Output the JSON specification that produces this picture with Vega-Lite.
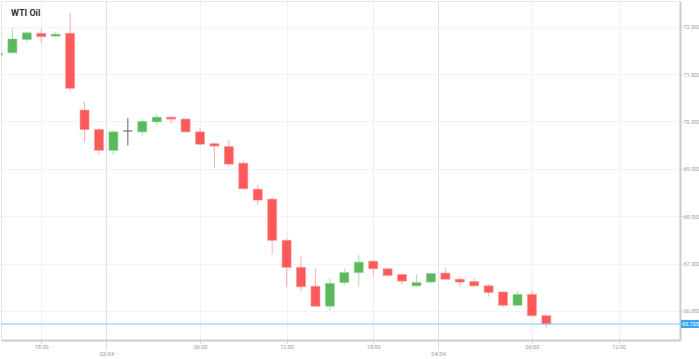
{
  "$schema": "https://vega.github.io/schema/vega-lite/v6.json",
  "width": 679,
  "height": 339,
  "autosize": {"type": "none"},
  "padding": {"left": 1, "top": 1, "right": 19, "bottom": 19},
  "background": "white",
  "title": {"text": "WTI Oil", "anchor": "start", "frame": "group", "orient": "top", "offset": -17, "dx": 10, "fontSize": 9, "font": "Roboto", "fontWeight": "bold", "color": "#333333"},
  "config": {
    "view": {"stroke": "#e6e6e6"},
    "axis": {"labelFont": "Roboto", "labelFontSize": 5.5, "labelColor": "#999999", "title": null, "labelOverlap": false, "labelFlush": false}
  },
  "datasets": {
    "candles": [
      {"s": -3, "o": 71.40, "h": 71.45, "l": 71.38, "c": 71.44, "d": "up"},
      {"s": -2, "o": 71.45, "h": 71.95, "l": 71.43, "c": 71.74, "d": "up"},
      {"s": -1, "o": 71.73, "h": 71.91, "l": 71.67, "c": 71.87, "d": "up"},
      {"s": 0, "o": 71.86, "h": 71.97, "l": 71.66, "c": 71.79, "d": "down"},
      {"s": 1, "o": 71.80, "h": 71.89, "l": 71.77, "c": 71.84, "d": "up"},
      {"s": 2, "o": 71.86, "h": 72.30, "l": 70.63, "c": 70.70, "d": "down"},
      {"s": 3, "o": 70.24, "h": 70.41, "l": 69.56, "c": 69.83, "d": "down"},
      {"s": 4, "o": 69.83, "h": 69.86, "l": 69.30, "c": 69.39, "d": "down"},
      {"s": 5, "o": 69.39, "h": 69.81, "l": 69.31, "c": 69.78, "d": "up"},
      {"s": 6, "o": 69.80, "h": 70.07, "l": 69.49, "c": 69.80, "d": "flat"},
      {"s": 7, "o": 69.78, "h": 70.05, "l": 69.70, "c": 70.00, "d": "up"},
      {"s": 8, "o": 69.99, "h": 70.16, "l": 69.91, "c": 70.09, "d": "up"},
      {"s": 9, "o": 70.09, "h": 70.10, "l": 69.95, "c": 70.05, "d": "down"},
      {"s": 10, "o": 70.05, "h": 70.06, "l": 69.77, "c": 69.78, "d": "down"},
      {"s": 11, "o": 69.78, "h": 69.87, "l": 69.51, "c": 69.52, "d": "down"},
      {"s": 12, "o": 69.53, "h": 69.56, "l": 69.02, "c": 69.48, "d": "down"},
      {"s": 13, "o": 69.47, "h": 69.61, "l": 69.05, "c": 69.10, "d": "down"},
      {"s": 14, "o": 69.12, "h": 69.18, "l": 68.57, "c": 68.58, "d": "down"},
      {"s": 15, "o": 68.57, "h": 68.66, "l": 68.24, "c": 68.34, "d": "down"},
      {"s": 16, "o": 68.36, "h": 68.40, "l": 67.20, "c": 67.49, "d": "down"},
      {"s": 17, "o": 67.49, "h": 67.53, "l": 66.51, "c": 66.92, "d": "down"},
      {"s": 18, "o": 66.92, "h": 67.17, "l": 66.41, "c": 66.51, "d": "down"},
      {"s": 19, "o": 66.52, "h": 66.90, "l": 66.09, "c": 66.10, "d": "down"},
      {"s": 20, "o": 66.10, "h": 66.70, "l": 66.01, "c": 66.58, "d": "up"},
      {"s": 21, "o": 66.60, "h": 66.89, "l": 66.54, "c": 66.81, "d": "up"},
      {"s": 22, "o": 66.81, "h": 67.18, "l": 66.51, "c": 67.03, "d": "up"},
      {"s": 23, "o": 67.05, "h": 67.06, "l": 66.72, "c": 66.89, "d": "down"},
      {"s": 24, "o": 66.89, "h": 66.91, "l": 66.72, "c": 66.75, "d": "down"},
      {"s": 25, "o": 66.77, "h": 66.78, "l": 66.56, "c": 66.63, "d": "down"},
      {"s": 26, "o": 66.53, "h": 66.77, "l": 66.52, "c": 66.60, "d": "up"},
      {"s": 27, "o": 66.61, "h": 66.80, "l": 66.60, "c": 66.79, "d": "up"},
      {"s": 28, "o": 66.80, "h": 66.91, "l": 66.66, "c": 66.67, "d": "down"},
      {"s": 29, "o": 66.67, "h": 66.72, "l": 66.51, "c": 66.61, "d": "down"},
      {"s": 30, "o": 66.62, "h": 66.70, "l": 66.51, "c": 66.53, "d": "down"},
      {"s": 31, "o": 66.53, "h": 66.57, "l": 66.30, "c": 66.39, "d": "down"},
      {"s": 32, "o": 66.40, "h": 66.42, "l": 66.08, "c": 66.12, "d": "down"},
      {"s": 33, "o": 66.12, "h": 66.42, "l": 66.11, "c": 66.35, "d": "up"},
      {"s": 34, "o": 66.35, "h": 66.44, "l": 65.88, "c": 65.90, "d": "down"},
      {"s": 35, "o": 65.90, "h": 65.91, "l": 65.65, "c": 65.725, "d": "down"}
    ],
    "price": [{"p": 65.725, "t": "65.725"}]
  },
  "layer": [
    {
      "data": {"name": "candles"},
      "mark": {"type": "rule", "strokeWidth": 1, "clip": true},
      "encoding": {
        "x": {"field": "s", "type": "quantitative", "scale": {"domain": [-2.79, 44.26], "nice": false, "zero": false, "padding": 0},
          "axis": {"orient": "bottom", "values": [4.5, 27.5], "labelExpr": "datum.value < 10 ? '03/04' : '04/04'", "grid": true, "gridColor": "#dedede", "tickSize": 10, "tickDash": [1, 1], "tickColor": "#bbbbbb", "labelPadding": 1, "domain": false, "labelBaseline": "top"}},
        "y": {"field": "l", "type": "quantitative", "scale": {"domain": [65.387, 72.542], "nice": false, "zero": false, "padding": 0},
          "axis": {"orient": "right", "values": [66, 67, 68, 69, 70, 71, 72], "format": ".3f", "tickSize": 2, "tickColor": "#cccccc", "labelPadding": 1, "domainColor": "#cccccc", "domainWidth": 2, "gridColor": "#f2f2f2"}},
        "y2": {"field": "h"},
        "color": {"field": "d", "type": "nominal", "legend": null, "scale": {"domain": ["up", "down", "flat"], "range": ["#aedcae", "#fbb0b0", "#666666"]}}
      }
    },
    {
      "data": {"name": "candles"},
      "mark": {"type": "bar", "size": 9, "strokeWidth": 1, "strokeOpacity": 0.6, "clip": true},
      "encoding": {
        "x": {"field": "s", "type": "quantitative",
          "axis": {"orient": "bottom", "values": [0, 11, 17, 23, 34, 40], "labelExpr": "datum.value == 0 || datum.value == 23 ? '18:00' : (datum.value == 11 || datum.value == 34 ? '06:00' : '12:00')", "grid": true, "gridColor": "#f0f0f0", "tickSize": 3, "tickColor": "#cccccc", "labelPadding": 1, "domainColor": "#cccccc", "domainWidth": 2, "labelBaseline": "top"}},
        "y": {"field": "o", "type": "quantitative"},
        "y2": {"field": "c"},
        "color": {"field": "d", "type": "nominal", "legend": null, "scale": {"domain": ["up", "down", "flat"], "range": ["#5cb85c", "#fc5a5a", "#555555"]}},
        "stroke": {"field": "d", "type": "nominal", "legend": null, "scale": {"domain": ["up", "down", "flat"], "range": ["#8fd08f", "#ff8f8f", "#555555"]}}
      }
    },
    {
      "data": {"name": "price"},
      "mark": {"type": "rule", "color": "#7cc6f3", "strokeWidth": 1},
      "encoding": {"y": {"field": "p", "type": "quantitative"}}
    },
    {
      "data": {"name": "price"},
      "mark": {"type": "point", "filled": true, "shape": "M0.1,-0.45L2.1,-0.45L2.1,0.45L0.1,0.45Z", "size": 324, "color": "#3aa6f2", "opacity": 1, "clip": false},
      "encoding": {"x": {"value": "width"}, "y": {"field": "p", "type": "quantitative"}}
    },
    {
      "data": {"name": "price"},
      "mark": {"type": "text", "align": "left", "baseline": "middle", "dx": 2, "font": "Roboto", "fontSize": 5.5, "color": "white", "clip": false},
      "encoding": {"x": {"value": "width"}, "y": {"field": "p", "type": "quantitative"}, "text": {"field": "t"}}
    }
  ],
  "resolve": {"axis": {"x": "independent"}, "scale": {"color": "independent", "stroke": "independent"}}
}
